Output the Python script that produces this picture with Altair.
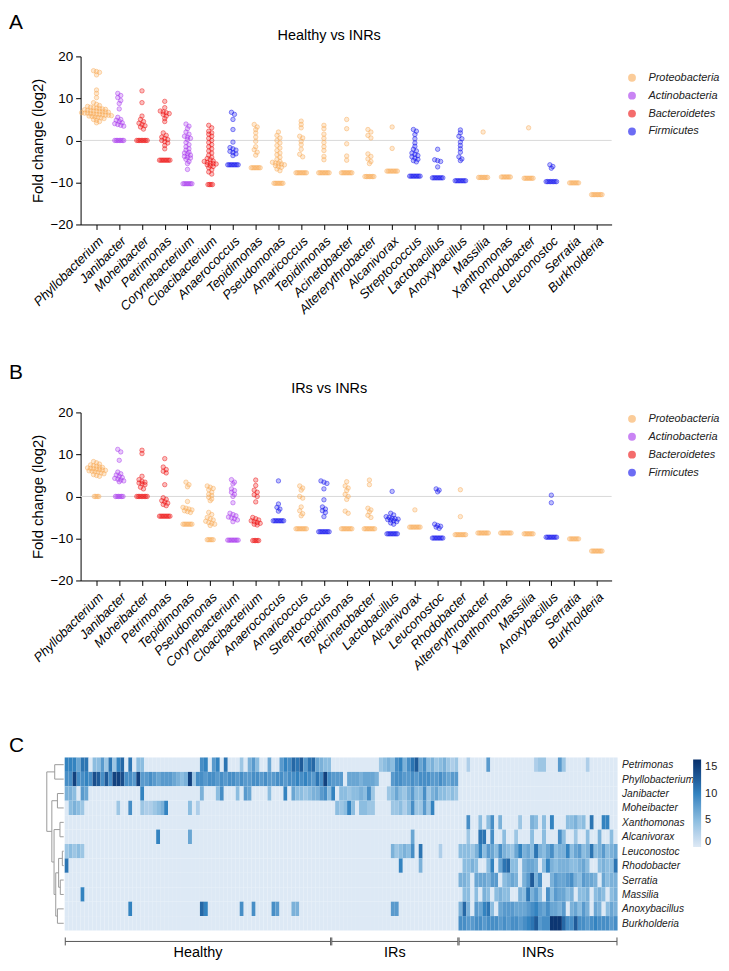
import altair as alt
import pandas as pd
from collections import Counter

FONT = "Liberation Sans"

# ---------------- phyla ----------------
PHYLA = ["Proteobacteria", "Actinobacteria", "Bacteroidetes", "Firmicutes"]
PHYLA_COLORS = ["#F9AC5A", "#A838EE", "#EE1212", "#1212EE"]

PHYLUM_OF = {
    "Phyllobacterium": "Proteobacteria", "Janibacter": "Actinobacteria",
    "Moheibacter": "Bacteroidetes", "Petrimonas": "Bacteroidetes",
    "Corynebacterium": "Actinobacteria", "Cloacibacterium": "Bacteroidetes",
    "Anaerococcus": "Firmicutes", "Tepidimonas": "Proteobacteria",
    "Pseudomonas": "Proteobacteria", "Amaricoccus": "Proteobacteria",
    "Acinetobacter": "Proteobacteria", "Altererythrobacter": "Proteobacteria",
    "Alcanivorax": "Proteobacteria", "Streptococcus": "Firmicutes",
    "Lactobacillus": "Firmicutes", "Anoxybacillus": "Firmicutes",
    "Massilia": "Proteobacteria", "Xanthomonas": "Proteobacteria",
    "Rhodobacter": "Proteobacteria", "Leuconostoc": "Firmicutes",
    "Serratia": "Proteobacteria", "Burkholderia": "Proteobacteria",
}

# ---------------- panel A: Healthy vs INRs ----------------
A_TITLE = "Healthy vs INRs"
A_GENERA = ["Phyllobacterium", "Janibacter", "Moheibacter", "Petrimonas", "Corynebacterium",
            "Cloacibacterium", "Anaerococcus", "Tepidimonas", "Pseudomonas", "Amaricoccus",
            "Tepidimonas", "Acinetobacter", "Altererythrobacter", "Alcanivorax", "Streptococcus",
            "Lactobacillus", "Anoxybacillus", "Massilia", "Xanthomonas", "Rhodobacter",
            "Leuconostoc", "Serratia", "Burkholderia"]
A_VALUES = [
    [16.6, 16.4, 16.2, 15.6, 12.0, 11.2, 10.2, 9.0, 8.6, 8.3, 8.1, 7.9, 7.8, 7.7, 7.6, 7.5, 7.4,
     7.3, 7.2, 7.1, 7.0, 7.0, 6.9, 6.8, 6.8, 6.7, 6.6, 6.5, 6.5, 6.4, 6.3, 6.2, 6.2, 6.1, 6.0,
     6.0, 5.9, 5.8, 5.7, 5.6, 5.5, 5.4, 5.2, 5.0, 4.8, 4.5, 4.2],
    [11.2, 10.7, 10.2, 9.5, 8.8, 7.5, 5.5, 5.0, 4.8, 4.5, 4.2, 4.0, 3.8, 3.6, 3.4] + [0.0] * 7,
    [11.8, 9.0, 5.8, 5.0, 4.5, 4.1, 3.8, 3.5, 3.2, 2.7] + [0.0] * 8,
    [9.3, 7.8, 7.0, 6.8, 6.6, 6.4, 6.2, 5.8, 5.2, 4.5, 1.8, 1.2, 0.8, 0.5, 0.2, 0.0, -0.3, -0.6,
     -1.2, -2.0] + [-4.7] * 8,
    [3.9, 3.4, 2.8, 2.0, 1.5, 1.0, 0.8, 0.5, 0.2, -0.5, -1.0, -1.5, -2.0, -2.3, -2.8, -3.0, -3.2,
     -3.5, -3.8, -4.0, -4.2, -4.5, -5.0, -5.5, -6.9] + [-10.3] * 7,
    [3.6, 3.0, 2.2, 1.8, 1.5, 1.0, 0.5, 0.0, -0.5, -1.0, -1.5, -2.0, -2.5, -3.0, -3.5, -4.0, -4.3,
     -4.6, -4.9, -5.0, -5.2, -5.4, -5.5, -5.6, -5.8, -6.0, -6.2, -6.5, -7.0, -7.5, -8.0] + [-10.5] * 4,
    [6.7, 6.2, 5.0, 2.6, -0.4, -1.7, -2.0, -2.3, -2.6, -2.9, -3.2, -3.6] + [-5.8] * 8,
    [3.8, 3.2, 2.6, 1.8, 0.8, -0.2, -1.5, -2.2, -2.8, -3.5] + [-6.5] * 7,
    [2.0, 1.2, 0.6, 0.0, -0.6, -1.2, -1.8, -2.4, -3.0, -3.4, -4.0, -4.5, -5.0, -5.2, -5.4, -5.5,
     -5.6, -5.8, -6.0, -6.2, -6.4, -6.8, -7.2] + [-10.2] * 7,
    [4.6, 3.8, 3.0, 1.0, 0.6, -0.2, -1.0, -2.1, -3.3, -3.9] + [-7.7] * 8,
    [3.6, 2.8, 1.5, 0.5, -0.5, -1.5, -2.4, -3.8, -4.6] + [-7.7] * 8,
    [5.0, 2.8, -0.8, -3.7, -4.7] + [-7.7] * 8,
    [2.6, 2.0, 1.2, 0.6, -3.2, -3.8, -4.4, -5.0, -5.5] + [-8.6] * 7,
    [3.2, -1.9] + [-7.3] * 8,
    [2.6, 2.2, 1.4, 0.4, -0.6, -1.4, -2.1, -2.5, -3.0, -3.3, -3.6, -3.9, -4.2, -4.5, -4.8, -5.1] + [-8.5] * 8,
    [-2.1, -4.6, -4.8, -5.0, -6.3] + [-8.9] * 8,
    [2.5, 1.8, 1.0, 0.4, -0.4, -1.2, -2.0, -2.8, -3.9, -4.4, -4.8] + [-9.6] * 8,
    [2.0] + [-8.8] * 7,
    [-8.7] * 7,
    [3.0] + [-9.0] * 7,
    [-5.8, -6.2, -6.6] + [-9.8] * 8,
    [-10.1] * 7,
    [-12.9] * 8,
]

# ---------------- panel B: IRs vs INRs ----------------
B_TITLE = "IRs vs INRs"
B_GENERA = ["Phyllobacterium", "Janibacter", "Moheibacter", "Petrimonas", "Tepidimonas",
            "Pseudomonas", "Corynebacterium", "Cloacibacterium", "Anaerococcus", "Amaricoccus",
            "Streptococcus", "Tepidimonas", "Acinetobacter", "Lactobacillus", "Alcanivorax",
            "Leuconostoc", "Rhodobacter", "Altererythrobacter", "Xanthomonas", "Massilia",
            "Anoxybacillus", "Serratia", "Burkholderia"]
B_VALUES = [
    [8.3, 8.0, 7.7, 7.5, 7.3, 7.2, 7.0, 6.9, 6.8, 6.7, 6.6, 6.5, 6.4, 6.3, 6.2, 6.1, 6.0, 5.9,
     5.8, 5.6, 5.4, 5.2, 5.0, 4.8] + [0.0] * 4,
    [11.2, 10.6, 8.6, 5.8, 5.4, 5.1, 4.8, 4.5, 4.3, 4.1, 3.9, 3.7, 3.5] + [0.0] * 6,
    [11.0, 10.2, 4.8, 4.0, 3.6, 3.4, 3.2, 3.0, 2.8, 2.2, 1.8] + [0.0] * 8,
    [9.0, 7.0, 6.4, 6.0, 5.6, 2.8, -0.3, -0.7, -1.0, -1.3, -1.6, -1.9, -2.2] + [-4.7] * 8,
    [3.4, 2.8, 2.3, -1.2, -2.6, -2.8, -3.0, -3.2, -3.4, -3.6, -3.8] + [-6.6] * 7,
    [2.5, 2.2, 1.9, 1.6, 1.0, 0.5, 0.2, -0.2, -0.6, -1.0, -3.8, -4.3, -5.0, -5.3, -5.6, -5.9,
     -6.2, -6.4, -6.6, -6.9] + [-10.3] * 5,
    [4.0, 3.4, 3.0, 1.8, 1.4, 1.0, 0.5, 0.0, -1.5, -4.0, -4.3, -4.6, -4.9, -5.1, -5.3, -5.6,
     -6.0] + [-10.4] * 8,
    [3.9, 2.6, 1.5, 1.0, 0.4, 0.0, -1.3, -5.0, -5.3, -5.6, -5.8, -6.0, -6.2, -6.4, -6.6,
     -6.8] + [-10.5] * 5,
    [3.7, -1.8, -2.6, -3.0, -3.5] + [-5.8] * 8,
    [2.5, 2.0, 1.5, 0.0, -0.4, -2.5, -3.4, -4.1, -4.6] + [-7.7] * 8,
    [3.7, 3.4, 3.1, 1.8, -0.8, -2.5, -3.0, -3.4, -3.8, -4.8] + [-8.4] * 8,
    [3.5, 2.5, 2.0, 1.4, 0.5, 0.0, -0.7, -3.5, -4.0] + [-7.7] * 8,
    [3.9, 2.8, -2.8, -3.2, -3.7, -4.5, -5.0] + [-7.7] * 8,
    [1.2, -4.0, -4.4, -4.8, -5.0, -5.2, -5.3, -5.4, -5.5, -5.6, -5.8, -6.0, -6.3, -6.6] + [-8.9] * 8,
    [-3.2] + [-7.3] * 8,
    [1.8, 1.5, 1.1, -6.6, -6.9, -7.1, -7.3, -7.6] + [-9.9] * 8,
    [1.6, -4.8] + [-9.1] * 8,
    [-8.7] * 8,
    [-8.7] * 8,
    [-8.9] * 7,
    [0.3, -1.5] + [-9.7] * 8,
    [-10.1] * 7,
    [-13.0] * 8,
]

# ---------------- panel C: heatmap ----------------
HM_GENERA = ["Petrimonas", "Phyllobacterium", "Janibacter", "Moheibacter", "Xanthomonas",
             "Alcanivorax", "Leuconostoc", "Rhodobacter", "Serratia", "Massilia",
             "Anoxybacillus", "Burkholderia"]
HM_GROUPS = ["Healthy", "IRs", "INRs"]
HM_GROUP_SIZES = [67, 32, 40]
# one character per sample, base-17 digits 0..g (= 0..16)
HM_HEALTHY = [
    "aaa7bb0558" "4b4ac0b055" "0000000000" "00009a08a0" "b000406850" "07008a9cbd" "8bc7655",
    "99f99a9ed9" "d9ffe998f8" "8987888765" "6f49989989" "8998988998" "98899899a9" "a98b9f9",
    "6650870000" "000000000a" "0000000000" "0000600059" "0005087000" "05000a0755" "4566895",
    "0565400000" "0004009004" "33456a0000" "0503000000" "0000000000" "0000000000" "0000000",
    "0" * 67,
    "0000000000" "0000000000" "000a000000" "0700000000" "0000000000" "0000000000" "0000000",
    "4545400000" + "0" * 57,
    "b" + "0" * 66,
    "0" * 67,
    "0000a" + "0" * 62,
    "0000000000" "000000a000" "0000000000" "0000ca0000" "0000900900" "0098000660" "0000000",
    "0" * 67,
]
HM_IRS = [
    "0" * 12 + "45659a69bd7956456434",
    "8880" "77767776" "000" "89988989998898788",
    "a0" "5545565" "94" "000" "457546855946755454",
    "0" "545a5055440" "000" "4453594484a0" "00000",
    "0" * 32,
    "0" * 20 + "7" + "0" * 11,
    "0000000000" "0000064565" "90b0000300" "00",
    "0000000000" "0000000a00" "0060000000" "00",
    "0" * 32,
    "0" * 32,
    "0000000000" "0000088000" "0000000000" "00",
    "0" * 32,
]
HM_INRS = [
    "0030000800" "0000000003" "4400084000" "0030000000",
    "0" * 40,
    "0" * 40,
    "0" * 40,
    "0090050590" "6000040065" "050a000556" "450b00aa00",
    "00400bb090" "0500400050" "0500095004" "0050060050",
    "55546a5875" "96547a675b" "6579566a57" "856b568567",
    "05565005a0" "7bc5506776" "05a6566655" "675005655b",
    "6650777688" "05676068d6" "9006877896" "5877607566",
    "0550506505" "6550065b68" "5095877560" "5560565056",
    "6c6087ab50" "788877789a" "8797768067" "5860760576",
    "9988998999" "8989989abd" "899gggc99d" "9989a99989",
]
# dendrogram merges: (child a, child b, height); leaves are row indices 0..11
DENDRO = [(0, 1, 0.53), (2, 3, 0.37), (4, 5, 0.22), (6, 7, 0.08), (8, 9, 0.20),
          (15, 16, 0.30), (10, 11, 0.37), (17, 18, 0.47), (14, 19, 0.57),
          (13, 20, 0.70), (12, 21, 1.00)]
HM_COLOR_STOPS = [0, 5, 10, 16.5]
HM_COLORS = ["#dde9f5", "#8cbde0", "#3383c0", "#08306b"]

# ---------------- layout ----------------
W, H = 534, 169
XDOM = [-0.7, 22.65]
DX = 3.0 * (XDOM[1] - XDOM[0]) / W        # 3 px between neighbours in a row
DX_BAR = 1.5 * (XDOM[1] - XDOM[0]) / W    # 1.5 px for identical values
BIN_H = 0.7


def swarm(values, center):
    out = []
    cnt = Counter(values)
    bars = sorted([v for v, c in cnt.items() if c >= 3], reverse=True)
    for v in bars:
        n = cnt[v]
        for i in range(n):
            out.append((center + (i - (n - 1) / 2) * DX_BAR, v))
    singles = sorted([v for v in values if v not in bars], reverse=True)
    bins = []
    for v in singles:
        if bins and bins[-1][0] - v < BIN_H:
            bins[-1].append(v)
        else:
            bins.append([v])
    for b in bins:
        n = len(b)
        for i, v in enumerate(b):
            out.append((center + (i - (n - 1) / 2) * DX, v))
    return out


def strip_panel(genera, values, letter, title, title_y, letter_y, legend_y):
    rows = []
    for i, (g, vals) in enumerate(zip(genera, values)):
        for xo, v in swarm(vals, i):
            rows.append({"x": xo, "fc": v, "phylum": PHYLUM_OF[g], "genus": g})
    df = pd.DataFrame(rows)
    label_expr = "[" + ",".join("'%s'" % g for g in genera) + "][datum.value]"
    x = alt.X("x:Q", scale=alt.Scale(domain=XDOM, nice=False, zero=False),
              axis=alt.Axis(values=list(range(len(genera))), labelExpr=label_expr,
                            labelAngle=-45, labelAlign="right", labelBaseline="top",
                            labelFontStyle="italic", labelFontSize=13, labelPadding=5,
                            labelColor="black", tickSize=5, tickColor="black",
                            domainColor="black", grid=False, title=None,
                            labelOverlap=False))
    y = alt.Y("fc:Q", scale=alt.Scale(domain=[-20, 20], nice=False),
              axis=alt.Axis(values=[-20, -10, 0, 10, 20], title="Fold change (log2)",
                            titleFontSize=15, titleFontWeight="normal", titleColor="black",
                            titlePadding=4, labelFontSize=13.5, labelColor="black",
                            labelPadding=3, tickSize=5, tickColor="black",
                            domainColor="black", grid=False))
    cscale = alt.Scale(domain=PHYLA, range=PHYLA_COLORS)
    points = alt.Chart(df).mark_point(shape="circle", filled=True, size=20,
                                      fillOpacity=0.28, strokeOpacity=0.6,
                                      strokeWidth=0.8).encode(
        x=x, y=y,
        color=alt.Color("phylum:N", scale=cscale,
                        legend=alt.Legend(orient="none", legendX=549, legendY=legend_y,
                                          title=None, labelFontStyle="italic",
                                          labelFontSize=11, labelColor="#222222",
                                          labelOffset=11, rowPadding=6,
                                          symbolType="circle", symbolSize=62,
                                          symbolOpacity=0.62, symbolStrokeWidth=0)),
        stroke=alt.Stroke("phylum:N", scale=cscale, legend=None),
    )
    zero = alt.Chart(pd.DataFrame({"fc": [0.0]})).mark_rule(
        color="#d9d9d9", strokeWidth=1).encode(y=y, x=alt.value(0), x2=alt.value(W))
    ttl = alt.Chart(pd.DataFrame({"t": [title]})).mark_text(
        fontSize=14.5, align="center", baseline="middle", color="black").encode(
        text="t:N", x=alt.value(250), y=alt.value(title_y))
    let = alt.Chart(pd.DataFrame({"t": [letter]})).mark_text(
        fontSize=21, align="left", baseline="top", color="black").encode(
        text="t:N", x=alt.value(-72), y=alt.value(letter_y))
    return alt.layer(zero, points, ttl, let).properties(width=W, height=H)


panel_a = strip_panel(A_GENERA, A_VALUES, "A", A_TITLE, -21, -45, 16)
panel_b = strip_panel(B_GENERA, B_VALUES, "B", B_TITLE, -24, -51, 1)

# ---------------- heatmap panel ----------------
hm_rows = []
for r in range(len(HM_GENERA)):
    s = HM_HEALTHY[r] + HM_IRS[r] + HM_INRS[r]
    for c, ch in enumerate(s):
        hm_rows.append({"c0": c, "c1": c + 1, "r0": r - 0.5, "r1": r + 0.5,
                        "v": int(ch, 17)})
hm_df = pd.DataFrame(hm_rows)
NCOL = sum(HM_GROUP_SIZES)

xs = alt.Scale(domain=[0, NCOL], range=[-16, 540], nice=False, zero=False)
ys = alt.Scale(domain=[-0.5, 11.5], range=[-11, 163], nice=False, zero=False)
row_expr = "[" + ",".join("'%s'" % g for g in HM_GENERA) + "][datum.value]"
yaxis = alt.Axis(orient="right", values=list(range(12)), labelExpr=row_expr,
                 labelFontStyle="italic", labelFontSize=10.2, labelColor="#222222",
                 labelPadding=4, domain=False, ticks=False, grid=False, title=None)

heat = alt.Chart(hm_df).mark_rect().encode(
    x=alt.X("c0:Q", scale=xs, axis=None), x2="c1:Q",
    y=alt.Y("r0:Q", scale=ys, axis=yaxis), y2="r1:Q",
    color=alt.Color("v:Q", scale=alt.Scale(domain=HM_COLOR_STOPS, range=HM_COLORS),
                    legend=alt.Legend(orient="none", legendX=616, legendY=-9,
                                      direction="vertical", gradientLength=88,
                                      gradientThickness=8, title=None,
                                      values=[0, 5, 10, 15], labelFontSize=11,
                                      labelOffset=4, labelColor="#222222",
                                      gradientStrokeWidth=0)),
)

# dendrogram geometry from merges
node_h = {i: 0.0 for i in range(12)}
node_y = {i: float(i) for i in range(12)}
segs = []


def hx(h):
    return -0.25 - h * 4.25


for k, (a, b, h) in enumerate(DENDRO):
    nid = 12 + k
    segs.append({"x0": hx(h), "x1": hx(h), "y0": node_y[a], "y1": node_y[b]})
    segs.append({"x0": hx(node_h[a]), "x1": hx(h), "y0": node_y[a], "y1": node_y[a]})
    segs.append({"x0": hx(node_h[b]), "x1": hx(h), "y0": node_y[b], "y1": node_y[b]})
    node_h[nid] = h
    node_y[nid] = (node_y[a] + node_y[b]) / 2
dendro = alt.Chart(pd.DataFrame(segs)).mark_rule(color="#9a9a9a", strokeWidth=1).encode(
    x=alt.X("x0:Q", scale=xs, axis=None), x2="x1:Q",
    y=alt.Y("y0:Q", scale=ys, axis=yaxis), y2="y1:Q",
)

starts, s0 = [], 0
for n in HM_GROUP_SIZES:
    starts.append(s0)
    s0 += n
grp = pd.DataFrame({
    "g": HM_GROUPS,
    "b0": [s + 0.15 for s in starts],
    "b1": [s + n - 0.15 for s, n in zip(starts, HM_GROUP_SIZES)],
    "mid": [s + n / 2 for s, n in zip(starts, HM_GROUP_SIZES)],
})
ticks_df = pd.DataFrame({"tx": list(grp["b0"]) + list(grp["b1"])})
brk = alt.Chart(grp).mark_rule(color="#555555", strokeWidth=1).encode(
    x=alt.X("b0:Q", scale=xs, axis=None), x2="b1:Q", y=alt.value(174))
brk_ticks = alt.Chart(ticks_df).mark_rule(color="#555555", strokeWidth=1).encode(
    x=alt.X("tx:Q", scale=xs, axis=None), y=alt.value(170), y2=alt.value(178))
grp_txt = alt.Chart(grp).mark_text(fontSize=14.5, align="center", baseline="middle",
                                   color="black").encode(
    x=alt.X("mid:Q", scale=xs, axis=None), y=alt.value(186), text="g:N")
let_c = alt.Chart(pd.DataFrame({"t": ["C"]})).mark_text(
    fontSize=21, align="left", baseline="top", color="black").encode(
    text="t:N", x=alt.value(-72), y=alt.value(-34))

panel_c = alt.layer(heat, dendro, brk, brk_ticks, grp_txt, let_c).properties(
    width=540, height=163)

chart = alt.vconcat(panel_a, panel_b, panel_c, spacing=189, bounds="flush").resolve_scale(
    color="independent", stroke="independent"
).properties(
    padding={"left": 0, "top": 0, "right": 0, "bottom": 0}
).configure(font=FONT).configure_view(stroke="transparent")

chart.save("out.html", embed_options={"renderer": "svg", "actions": False})
